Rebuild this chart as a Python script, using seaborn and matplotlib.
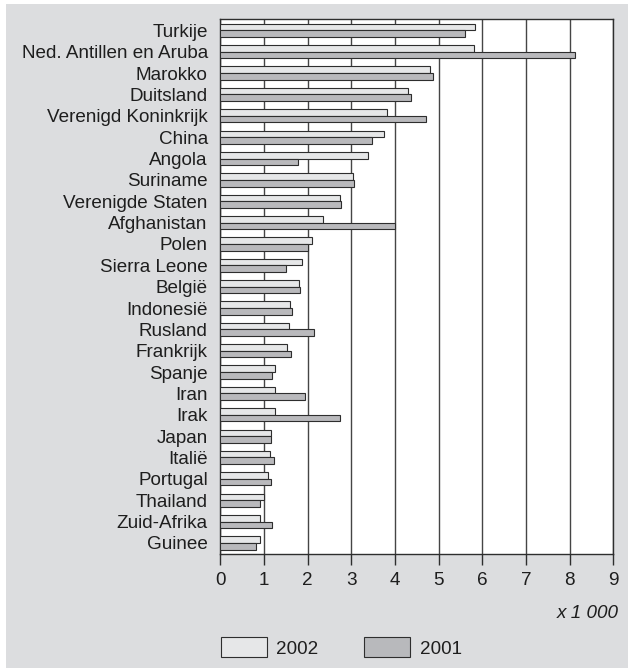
import pandas as pd
import matplotlib.pyplot as plt
import seaborn as sns
from matplotlib.patches import Patch, Rectangle

# Landen en waarden (x 1 000)
landen = ['Turkije', 'Ned. Antillen en Aruba', 'Marokko', 'Duitsland',
          'Verenigd Koninkrijk', 'China', 'Angola', 'Suriname',
          'Verenigde Staten', 'Afghanistan', 'Polen', 'Sierra Leone',
          'België', 'Indonesië', 'Rusland', 'Frankrijk', 'Spanje', 'Iran',
          'Irak', 'Japan', 'Italië', 'Portugal', 'Thailand', 'Zuid-Afrika',
          'Guinee']
waarden_2002 = [5.84, 5.81, 4.81, 4.29, 3.82, 3.75, 3.38, 3.03, 2.75, 2.35,
                2.11, 1.86, 1.79, 1.60, 1.58, 1.53, 1.25, 1.25, 1.25, 1.15,
                1.14, 1.10, 0.99, 0.92, 0.90]
waarden_2001 = [5.59, 8.12, 4.87, 4.37, 4.71, 3.47, 1.78, 3.06, 2.77, 3.99,
                2.01, 1.51, 1.83, 1.64, 2.15, 1.62, 1.19, 1.95, 2.73, 1.16,
                1.24, 1.16, 0.92, 1.18, 0.82]
jaren = ['2002', '2001']

df = pd.DataFrame({
    'land': landen * 2,
    'waarde': waarden_2002 + waarden_2001,
    'jaar': [jaren[0]] * len(landen) + [jaren[1]] * len(landen),
})

kleuren = {'2002': '#e6e7e8', '2001': '#b8b9bc'}
tekst = '#1e1e1e'
lijn = '#2e2e2e'
fs = 13.6

sns.set_style('white')
plt.rcParams['font.family'] = ['Liberation Sans', 'DejaVu Sans']

fig = plt.figure(figsize=(6.28, 6.70), dpi=100)
fig.patch.set_facecolor('white')
fig.patches.append(Rectangle((6 / 628, 2 / 670), 1 - 6 / 628, 1 - 6 / 670,
                             transform=fig.transFigure, facecolor='#dcdddf',
                             edgecolor='none', zorder=-10))

ax = fig.add_axes([0.3508, 0.1731, 0.9769 - 0.3508, 0.9712 - 0.1731])
ax.set_facecolor('white')

sns.barplot(data=df, y='land', x='waarde', hue='jaar', hue_order=jaren,
            palette=kleuren, order=landen, orient='h', width=0.62,
            edgecolor=lijn, linewidth=0.8, legend=False, ax=ax, zorder=3)

ax.set_xlim(0, 9)
ax.set_ylim(len(landen) - 0.48, -0.52)
ax.set_xticks(range(0, 10))
ax.xaxis.grid(True, color='#454545', linewidth=1.0, zorder=0)
ax.set_axisbelow(True)
ax.set_xlabel('')
ax.set_ylabel('')

for s in ax.spines.values():
    s.set_visible(True)
    s.set_color(lijn)
    s.set_linewidth(1.0)

ax.tick_params(axis='x', length=8, width=1, color=lijn, direction='out',
               labelsize=fs, labelcolor=tekst, pad=5, bottom=True)
ax.tick_params(axis='y', length=0, labelsize=fs, labelcolor=tekst, pad=9)

fig.text(619 / 628, 1 - 614 / 670, 'x 1 000', ha='right', va='center',
         fontsize=fs, style='italic', color=tekst)

handles = [Patch(facecolor=kleuren[j], edgecolor=lijn, linewidth=0.8, label=j)
           for j in jaren]
fig.legend(handles=handles, loc='center left',
           bbox_to_anchor=(220.7 / 628, 1 - 647.5 / 670), ncol=2,
           frameon=False, fontsize=fs, handlelength=2.45, handleheight=1.22,
           handletextpad=0.5, columnspacing=2.4, borderpad=0,
           borderaxespad=0, labelcolor=tekst)

fig.savefig('out.png', dpi=100, facecolor=fig.get_facecolor())
